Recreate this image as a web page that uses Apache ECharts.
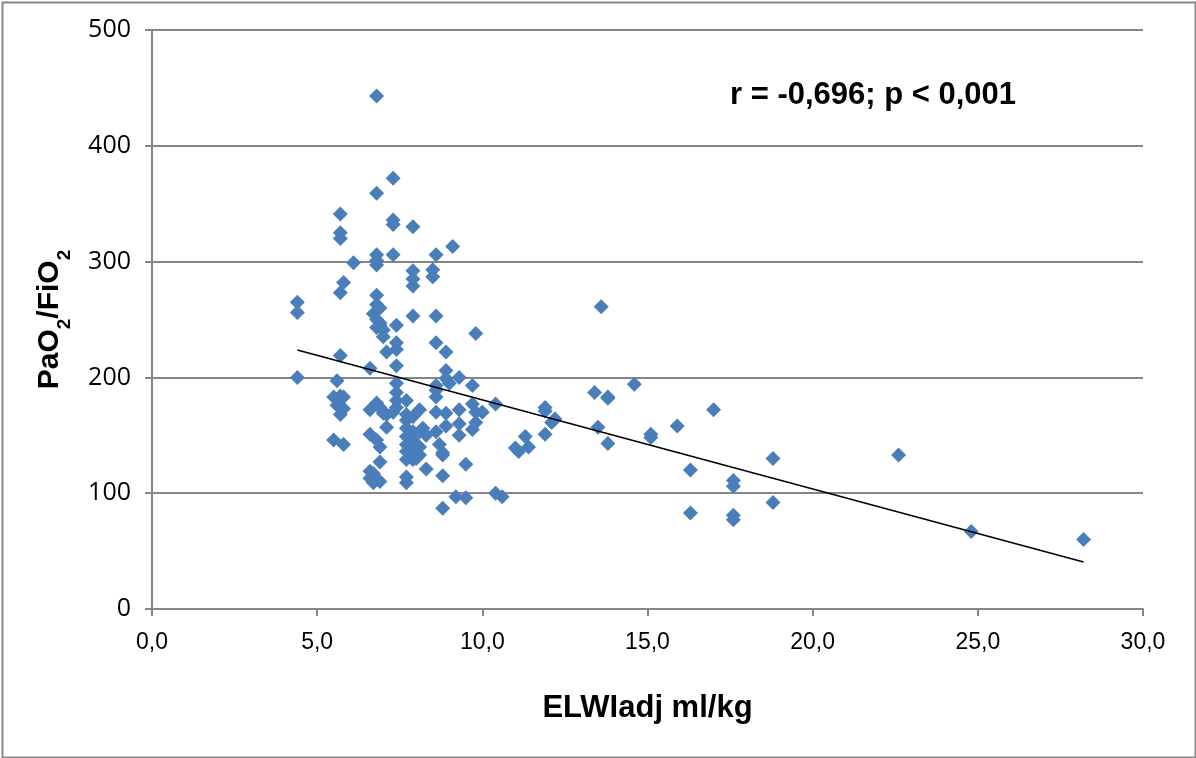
<!DOCTYPE html>
<html>
<head>
<meta charset="utf-8">
<script src="https://cdn.jsdelivr.net/npm/echarts@6/dist/echarts.min.js"></script>
<style>
  html, body { margin: 0; padding: 0; background: #fff; }
  #chart { width: 1196px; height: 758px; }
</style>
</head>
<body>
<div id="chart"></div>
<script>
// ELWIadj (ml/kg) against PaO2/FiO2, one pair per measurement
const elwi = [
  4.4, 4.4, 4.4,
  5.7, 5.7, 5.7, 5.8, 5.7, 5.7, 5.6, 5.5, 5.7, 5.6, 5.8, 5.7, 5.8, 5.5, 5.8, 6.1,
  6.8, 6.8, 6.8, 6.8, 6.8, 6.8, 6.8, 6.9, 6.7, 6.6, 6.8, 6.9, 6.8, 7.0, 7.0, 6.9,
  6.6, 6.8, 6.9, 7.0, 6.6, 6.8, 6.9, 6.9, 6.6, 6.7, 6.6, 6.7, 6.9, 7.1, 7.1, 7.1,
  7.3, 7.3, 7.3, 7.3, 7.4, 7.4, 7.4, 7.4, 7.4, 7.4, 7.4, 7.4, 7.3,
  7.9, 7.9, 7.9, 7.9, 7.9, 7.7, 7.7, 7.7, 7.7, 7.7, 7.7, 7.7, 7.7, 7.7, 7.7,
  7.9, 7.9, 7.9, 7.9, 7.9, 7.9, 8.1, 8.1, 8.1, 8.1, 8.2, 8.3, 8.3, 8.0,
  8.5, 8.5, 8.6, 8.6, 8.6, 8.6, 8.6, 8.6, 8.6, 8.7, 8.9, 8.8, 8.8, 8.8,
  8.9, 8.9, 8.9, 9.0, 8.9, 8.6, 8.8,
  9.1, 9.3, 9.3, 9.3, 9.3, 9.2, 9.5, 9.5,
  9.8, 9.7, 9.7, 9.8, 10.0, 9.7, 9.8, 10.4, 10.4, 10.6,
  11.0, 11.1, 11.3, 11.4, 11.9, 11.9, 11.9, 12.1, 12.2,
  13.6, 13.4, 13.5, 13.8, 13.8, 13.8,
  14.6, 15.1, 15.1, 15.9, 17.0, 16.3, 16.3, 17.6, 17.6, 17.6, 17.6,
  18.8, 18.8, 22.6, 24.8, 28.2
];
const pf = [
  265, 256, 200,
  341, 325, 320, 282, 273, 219, 197, 183, 184, 176, 173, 168, 183, 146, 142, 299,
  443, 359, 306, 301, 297, 271, 263, 260, 255, 208, 250, 247, 243, 241, 235, 245,
  172, 178, 174, 169, 151, 146, 140, 127, 119, 117, 113, 109, 110, 222, 168, 157,
  372, 336, 332, 306, 245, 230, 224, 210, 195, 187, 180, 174, 170,
  330, 292, 285, 279, 253, 180, 168, 163, 156, 149, 142, 136, 129, 114, 109,
  166, 153, 146, 142, 136, 129, 172, 153, 140, 133, 156, 150, 121, 130,
  293, 287, 306, 253, 230, 193, 183, 170, 153, 142, 158, 133, 115, 87,
  222, 206, 199, 195, 169, 189, 135,
  313, 200, 172, 160, 150, 97, 125, 96,
  238, 193, 177, 170, 170, 155, 161, 177, 100, 97,
  139, 136, 149, 140, 174, 171, 151, 161, 164,
  261, 187, 157, 183, 182, 143,
  194, 151, 148, 158, 172, 120, 83, 111, 106, 81, 77,
  130, 92, 133, 67, 60
];

// Linear trend line end points
const trendX = [4.4, 28.2];
const trendY = [223.6, 40.6];

// Axis tick values
const xTicks = [0, 5, 10, 15, 20, 25, 30];
const yTicks = [0, 100, 200, 300, 400, 500];

const statText = 'r = -0,696; p < 0,001';

const points = elwi.map((x, i) => [x, pf[i]]);
const trend = trendX.map((x, i) => [x, trendY[i]]);

const gridColor = '#868686';
const chart = echarts.init(document.getElementById('chart'), null, { renderer: 'canvas' });

chart.setOption({
  animation: false,
  backgroundColor: '#ffffff',
  grid: { left: 152, right: 53, top: 30, bottom: 149, containLabel: false },
  xAxis: {
    type: 'value',
    min: xTicks[0],
    max: xTicks[xTicks.length - 1],
    interval: 5,
    name: 'ELWIadj ml/kg',
    nameLocation: 'middle',
    nameGap: 84,
    nameTextStyle: { fontFamily: 'Liberation Sans', fontWeight: 'bold', fontSize: 31, color: '#000' },
    axisLine: { show: true, lineStyle: { color: gridColor, width: 2 } },
    axisTick: { show: true, length: 7, lineStyle: { color: gridColor, width: 2 } },
    axisLabel: {
      margin: 22,
      fontFamily: 'Liberation Sans',
      fontSize: 23,
      color: '#000',
      formatter: v => v.toFixed(1).replace('.', ',')
    },
    splitLine: { show: false }
  },
  yAxis: {
    type: 'value',
    min: yTicks[0],
    max: yTicks[yTicks.length - 1],
    interval: 100,
    name: '{a|PaO}{s|2}{a|/FiO}{s|2}',
    nameLocation: 'middle',
    nameRotate: 90,
    nameGap: 84,
    nameTextStyle: {
      rich: {
        a: { fontFamily: 'Liberation Sans', fontWeight: 'bold', fontSize: 30, color: '#000', lineHeight: 36 },
        s: { fontFamily: 'Liberation Sans', fontWeight: 'bold', fontSize: 19, color: '#000', lineHeight: 36, verticalAlign: 'bottom', padding: [0, 0, -6, 0] }
      }
    },
    axisLine: { show: true, lineStyle: { color: gridColor, width: 2 } },
    axisTick: { show: true, length: 7, lineStyle: { color: gridColor, width: 2 } },
    axisLabel: {
      margin: 21,
      fontFamily: 'Open Sans',
      fontSize: 25,
      color: '#000'
    },
    splitLine: { show: true, lineStyle: { color: gridColor, width: 2 } }
  },
  series: [
    {
      type: 'scatter',
      data: points,
      symbol: 'diamond',
      symbolSize: 15,
      itemStyle: { color: '#4A7EBB', opacity: 1 },
      z: 3
    },
    {
      type: 'line',
      data: trend,
      symbol: 'none',
      lineStyle: { color: '#000', width: 1.6 },
      z: 4
    }
  ],
  graphic: [
    {
      type: 'rect',
      left: 0, top: 0,
      shape: { x: 1, y: 1, width: 1193, height: 755 },
      style: { fill: 'none', stroke: '#888', lineWidth: 2 },
      silent: true
    },
    {
      type: 'text',
      left: 730, top: 80,
      style: { text: statText, fontFamily: 'Liberation Sans', fontWeight: 'bold', fontSize: 31, fill: '#000' }
    }
  ]
});
</script>
</body>
</html>
